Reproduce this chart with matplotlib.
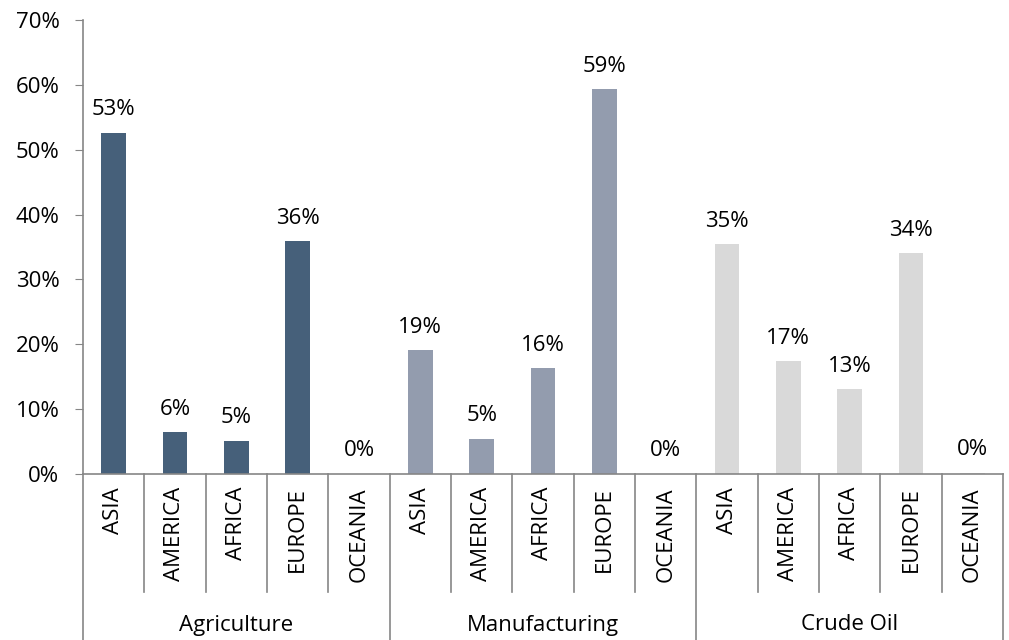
import matplotlib.pyplot as plt
import matplotlib.transforms as mtransforms
from matplotlib.ticker import FuncFormatter

plt.rcParams['font.family'] = ['Open Sans', 'DejaVu Sans']

groups = ['Agriculture', 'Manufacturing', 'Crude Oil']
regions = ['ASIA', 'AMERICA', 'AFRICA', 'EUROPE', 'OCEANIA']
agriculture = [52.6, 6.4, 5.1, 35.9, 0.0]
manufacturing = [19.1, 5.4, 16.3, 59.3, 0.0]
crude_oil = [35.4, 17.4, 13.1, 34.0, 0.2]
colors = ['#46607a', '#939cae', '#d9d9d9']

series = [agriculture, manufacturing, crude_oil]

fig = plt.figure(figsize=(10.09, 6.4), dpi=100)
ax = fig.add_axes([83 / 1009, 166 / 640, 920 / 1009, 454 / 640])

n = len(regions)
fs = 16
for g, vals in enumerate(series):
    xs = [g * n + i for i in range(n)]
    ax.bar(xs, vals, width=0.4, color=colors[g])
    for x, v in zip(xs, vals):
        ax.annotate(f'{round(v):.0f}%', (x, v), xytext=(0, 9), textcoords='offset points',
                    ha='center', va='bottom', fontsize=fs)

ax.set_xlim(-0.5, 3 * n - 0.5)
ax.set_ylim(0, 70)
ax.set_yticks(range(0, 71, 10))
ax.yaxis.set_major_formatter(FuncFormatter(lambda v, p: f'{v:.0f}%'))
ax.tick_params(axis='y', labelsize=fs, length=6, color='#868686', pad=11)
ax.set_xticks([])

for s in ['top', 'right']:
    ax.spines[s].set_visible(False)
for s in ['left', 'bottom']:
    ax.spines[s].set_color('#868686')
    ax.spines[s].set_linewidth(1.2)

# multi-level category axis
trans = mtransforms.blended_transform_factory(ax.transData, ax.transAxes)
px = 1 / 454
for k in range(3 * n + 1):
    x = k - 0.5
    low = -166 * px if k % n == 0 else -118 * px
    ax.plot([x, x], [0, low], transform=trans, color='#868686', lw=1.2, clip_on=False)

for g in range(3):
    for i, r in enumerate(regions):
        ax.text(g * n + i, -13 * px, r, transform=trans, rotation=90, ha='center', va='top',
                fontsize=fs)
    ax.text(g * n + (n - 1) / 2, -151 * px, groups[g], transform=trans, ha='center',
            va='center', fontsize=fs)

fig.savefig('out.png', dpi=100)
